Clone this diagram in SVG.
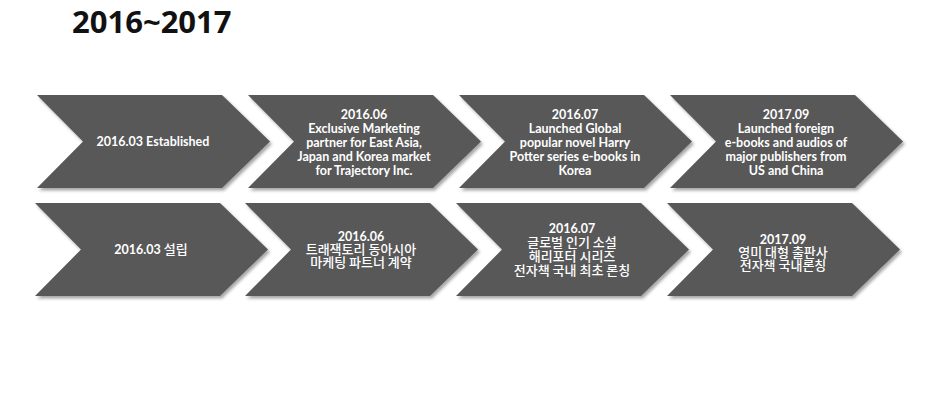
<svg xmlns="http://www.w3.org/2000/svg" width="940" height="420" viewBox="0 0 940 420">
<style>
.bg{fill:#ffffff}
.chev{fill:#595959;filter:url(#sh)}
.t{font-family:"Lato","Open Sans","Liberation Sans",sans-serif;font-weight:bold;font-size:12.5px;fill:#ffffff;text-anchor:middle}
.k{font-family:"Noto Sans CJK KR","Noto Sans",sans-serif;font-weight:500;font-size:13px;fill:#ffffff;text-anchor:middle}
.d{font-family:"Lato","Open Sans","Liberation Sans",sans-serif;font-weight:bold;font-size:12.5px}
.title{font-family:"Open Sans","Liberation Sans",sans-serif;font-weight:bold;font-size:31px;fill:#111111}
</style>
<defs>
<filter id="sh" x="-5%" y="-10%" width="115%" height="130%">
<feDropShadow dx="2" dy="2.5" stdDeviation="1.5" flood-color="#000000" flood-opacity="0.35"/>
</filter>
<path id="chevShape" d="M0,0 H185 L233,46.5 L185,93 H0 L46,46.5 Z"/>
</defs>
<rect class="bg" x="0" y="0" width="940" height="420"/>
<text class="title" x="72" y="33">2016~2017</text>
<g id="connectors"></g>

<g id="n1" transform="translate(37,95)">
<use href="#chevShape" class="chev"/>
<text class="t" x="116" y="51">2016.03 Established</text>
</g>
<g id="n2" transform="translate(248,95)">
<use href="#chevShape" class="chev"/>
<text class="t" x="116" y="24">2016.06</text>
<text class="t" x="116" y="38">Exclusive Marketing</text>
<text class="t" x="116" y="52">partner for East Asia,</text>
<text class="t" x="116" y="66">Japan and Korea market</text>
<text class="t" x="116" y="80">for Trajectory Inc.</text>
</g>
<g id="n3" transform="translate(459,95)">
<use href="#chevShape" class="chev"/>
<text class="t" x="116" y="24">2016.07</text>
<text class="t" x="116" y="38">Launched Global</text>
<text class="t" x="116" y="52">popular novel Harry</text>
<text class="t" x="116" y="66">Potter series e-books in</text>
<text class="t" x="116" y="80">Korea</text>
</g>
<g id="n4" transform="translate(670,95)">
<use href="#chevShape" class="chev"/>
<text class="t" x="116" y="24">2017.09</text>
<text class="t" x="116" y="38">Launched foreign</text>
<text class="t" x="116" y="52">e-books and audios of</text>
<text class="t" x="116" y="66">major publishers from</text>
<text class="t" x="116" y="80">US and China</text>
</g>

<g id="n5" transform="translate(35,203)">
<use href="#chevShape" class="chev"/>
<text class="k" x="116" y="51"><tspan class="d">2016.03</tspan> 설립</text>
</g>
<g id="n6" transform="translate(245,203)">
<use href="#chevShape" class="chev"/>
<text class="t" x="116" y="38">2016.06</text>
<text class="k" x="116" y="51">트래잭토리 동아시아</text>
<text class="k" x="116" y="64">마케팅 파트너 계약</text>
</g>
<g id="n7" transform="translate(456,203)">
<use href="#chevShape" class="chev"/>
<text class="t" x="116" y="30">2016.07</text>
<text class="k" x="116" y="44">글로벌 인기 소설</text>
<text class="k" x="116" y="58">해리포터 시리즈</text>
<text class="k" x="116" y="72">전자책 국내 최초 론칭</text>
</g>
<g id="n8" transform="translate(667,203)">
<use href="#chevShape" class="chev"/>
<text class="t" x="116" y="41">2017.09</text>
<text class="k" x="116" y="54">영미 대형 출판사</text>
<text class="k" x="116" y="67">전자책 국내론칭</text>
</g>
</svg>
